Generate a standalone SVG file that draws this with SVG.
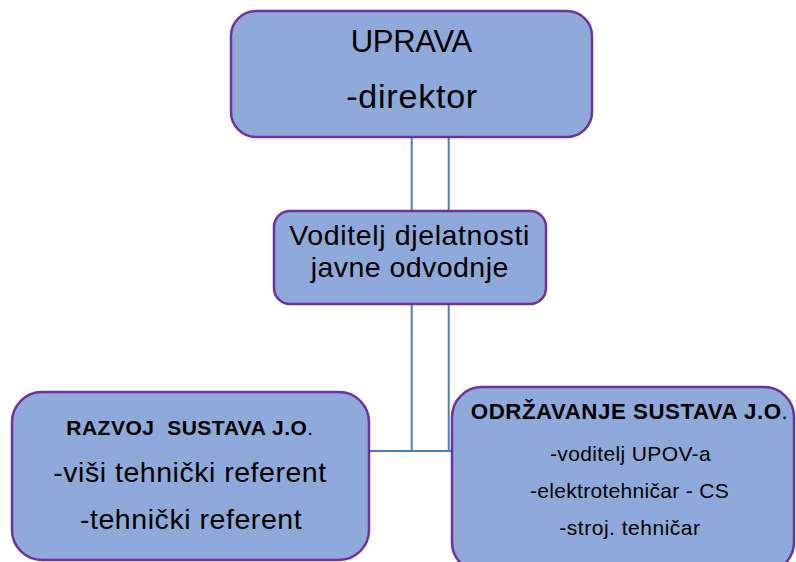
<svg xmlns="http://www.w3.org/2000/svg" width="796" height="562" viewBox="0 0 796 562">
<style>
.box{fill:#8eaadb;stroke:#7030a0;stroke-width:2.5}
.ln{stroke:#4a7ebb;stroke-width:2;fill:none}
text{font-family:"Liberation Sans",Arial,sans-serif;fill:#000;text-anchor:middle}
.b{font-weight:bold;white-space:pre}
.n{font-weight:normal}
</style>
<rect width="796" height="562" fill="#fff"/>
<g id="connectors">
<line class="ln" x1="411.7" y1="137" x2="411.7" y2="211"/>
<line class="ln" x1="448.7" y1="137" x2="448.7" y2="211"/>
<line class="ln" x1="411.7" y1="304" x2="411.7" y2="451"/>
<line class="ln" x1="448.7" y1="304" x2="448.7" y2="451"/>
<line class="ln" x1="369" y1="451" x2="452" y2="451"/>
</g>
<g id="uprava">
<rect class="box" x="231" y="11" width="361" height="126" rx="25"/>
<text x="411.5" y="52" font-size="31" textLength="121.6">UPRAVA</text>
<text x="411.7" y="108.3" font-size="34" textLength="131">-direktor</text>
</g>
<g id="voditelj">
<rect class="box" x="274" y="211" width="272" height="93" rx="16"/>
<text x="409.3" y="245" font-size="28.5" textLength="240">Voditelj djelatnosti</text>
<text x="409.5" y="276.7" font-size="28.5" textLength="197.6">javne odvodnje</text>
</g>
<g id="razvoj">
<rect class="box" x="12" y="392" width="357" height="168" rx="30"/>
<text class="b" x="189.7" y="435" font-size="21" textLength="247">RAZVOJ  SUSTAVA J.O<tspan class="n">.</tspan></text>
<text x="189.7" y="482.3" font-size="28.5" textLength="272.7">-viši tehnički referent</text>
<text x="190.8" y="529" font-size="28.5" textLength="221.7">-tehnički referent</text>
</g>
<g id="odrzavanje">
<rect class="box" x="452" y="387" width="342" height="185" rx="30"/>
<text class="b" x="629.3" y="419.3" font-size="22.3" textLength="317">ODRŽAVANJE SUSTAVA J.O<tspan class="n">.</tspan></text>
<text x="630.3" y="461" font-size="21" textLength="160.7">-voditelj UPOV-a</text>
<text x="629.3" y="498.3" font-size="21" textLength="198.7">-elektrotehničar - CS</text>
<text x="629.7" y="535" font-size="21" textLength="140.7">-stroj. tehničar</text>
</g>
</svg>
